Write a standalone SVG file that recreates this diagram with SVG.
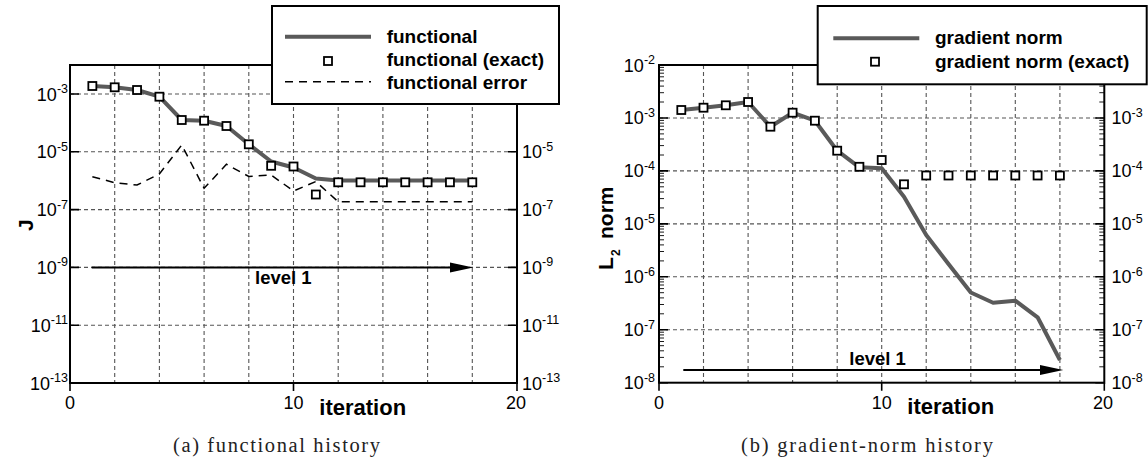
<svg xmlns="http://www.w3.org/2000/svg" xmlns:xlink="http://www.w3.org/1999/xlink" width="1148" height="466" viewBox="0 0 1148 466">
<style>
.frame{fill:none;stroke:#000;stroke-width:2}
.grid{fill:none;stroke:#555;stroke-width:1.1;stroke-dasharray:4 3}
.tick{fill:none;stroke:#000;stroke-width:1.6}
.minor{fill:none;stroke:#000;stroke-width:0.9}
.curve{fill:none;stroke:#5a5a5a;stroke-width:4;stroke-linejoin:round}
.err{fill:none;stroke:#000;stroke-width:1.5;stroke-dasharray:8 6}
.sq{fill:#fff;stroke:#000;stroke-width:1.8}
.arrow{fill:none;stroke:#000;stroke-width:2}
.head{fill:#000}
.lbl{font-family:"Liberation Sans",Arial,sans-serif;font-size:18px;fill:#000}
.sup{font-size:12.5px}
.bold{font-family:"Liberation Sans",Arial,sans-serif;font-weight:bold;fill:#000}
.leg{fill:#fff;stroke:#000;stroke-width:2}
.cap{font-family:"Liberation Serif","Times New Roman",serif;font-size:20.5px;fill:#222}
</style>
<defs>
<path id="minorL" d="M0 366.8h5M0 357.4h5M0 350.8h5M0 345.7h5M0 341.5h5M0 338h5M0 334.9h5M0 332.2h5M0 313.8h5M0 304.5h5M0 297.9h5M0 292.7h5M0 288.6h5M0 285h5M0 281.9h5M0 279.2h5M0 260.9h5M0 251.5h5M0 244.9h5M0 239.8h5M0 235.6h5M0 232.1h5M0 229h5M0 226.3h5M0 207.9h5M0 198.6h5M0 192h5M0 186.8h5M0 182.7h5M0 179.1h5M0 176h5M0 173.3h5M0 155h5M0 145.6h5M0 139h5M0 133.9h5M0 129.7h5M0 126.2h5M0 123.1h5M0 120.4h5M0 102h5M0 92.7h5M0 86.1h5M0 80.9h5M0 76.8h5M0 73.2h5M0 70.1h5M0 67.4h5"/>
<path id="majorR" d="M0 65h9M0 117.95h9M0 170.9h9M0 223.85h9M0 276.8h9M0 329.75h9M0 382.7h9"/>
<path id="majorLft" d="M0 94h9M0 151.8h9M0 209.6h9M0 267.4h9M0 325.2h9M0 383h9"/>
</defs>

<g id="plot-a">
  <g id="grid-a">
    <path class="grid" d="M114.7 65V383M159.4 65V383M204.1 65V383M248.8 65V383M293.5 65V383M338.2 65V383M382.9 65V383M427.6 65V383M472.3 65V383"/>
    <path class="grid" d="M70 94H517M70 151.8H517M70 209.6H517M70 267.4H517M70 325.2H517"/>
  </g>
  <g id="axes-a">
    <rect class="frame" x="70" y="65" width="447" height="318"/>
    <use href="#majorLft" class="tick" x="70"/>
    <use href="#majorLft" class="tick" transform="translate(517,0) scale(-1,1)"/>
    <path class="tick" d="M70 383v8M293.5 383v8M517 383v8"/>
    <text class="lbl" x="68" y="100.5" text-anchor="end">10<tspan class="sup" dy="-7.5">-3</tspan></text>
    <text class="lbl" x="68" y="158.3" text-anchor="end">10<tspan class="sup" dy="-7.5">-5</tspan></text>
    <text class="lbl" x="68" y="216.1" text-anchor="end">10<tspan class="sup" dy="-7.5">-7</tspan></text>
    <text class="lbl" x="68" y="273.9" text-anchor="end">10<tspan class="sup" dy="-7.5">-9</tspan></text>
    <text class="lbl" x="68" y="331.7" text-anchor="end">10<tspan class="sup" dy="-7.5">-11</tspan></text>
    <text class="lbl" x="68" y="389.5" text-anchor="end">10<tspan class="sup" dy="-7.5">-13</tspan></text>
    <text class="lbl" x="522" y="158.3">10<tspan class="sup" dy="-7.5">-5</tspan></text>
    <text class="lbl" x="522" y="216.1">10<tspan class="sup" dy="-7.5">-7</tspan></text>
    <text class="lbl" x="522" y="273.9">10<tspan class="sup" dy="-7.5">-9</tspan></text>
    <text class="lbl" x="522" y="331.7">10<tspan class="sup" dy="-7.5">-11</tspan></text>
    <text class="lbl" x="522" y="389.5">10<tspan class="sup" dy="-7.5">-13</tspan></text>
    <text class="lbl" x="70" y="408.5" text-anchor="middle">0</text>
    <text class="lbl" x="293.5" y="408.5" text-anchor="middle">10</text>
    <text class="lbl" x="516" y="408.5" text-anchor="middle">20</text>
    <text class="bold" x="319.3" y="415" font-size="22">iteration</text>
    <text class="bold" font-size="21" transform="translate(33,231) rotate(-90)">J</text>
  </g>
  <g id="series-a">
    <polyline class="err" points="92.35,176.7 114.7,182.7 137.05,185 159.4,174 181.75,145 204.1,188.3 226.45,164.3 248.8,176.5 271.15,175 293.5,191 315.85,181.5 338.2,201.7 472.3,201.7"/>
    <polyline class="curve" points="92.35,86 114.7,87.3 137.05,90 159.4,96.7 181.75,120 204.1,120.7 226.45,126 248.8,144.3 271.15,161.5 293.5,167.5 315.85,178.5 338.2,180.5 472.3,180.5"/>
    <rect class="sq" x="88.35" y="82" width="8" height="8"/>
    <rect class="sq" x="110.7" y="83.3" width="8" height="8"/>
    <rect class="sq" x="133.05" y="86" width="8" height="8"/>
    <rect class="sq" x="155.4" y="92.7" width="8" height="8"/>
    <rect class="sq" x="177.75" y="116" width="8" height="8"/>
    <rect class="sq" x="200.1" y="116.7" width="8" height="8"/>
    <rect class="sq" x="222.45" y="122" width="8" height="8"/>
    <rect class="sq" x="244.8" y="140.3" width="8" height="8"/>
    <rect class="sq" x="267.15" y="161.8" width="8" height="8"/>
    <rect class="sq" x="289.5" y="162.5" width="8" height="8"/>
    <rect class="sq" x="311.85" y="190.5" width="8" height="8"/>
    <rect class="sq" x="334.2" y="178.3" width="8" height="8"/>
    <rect class="sq" x="356.55" y="178.3" width="8" height="8"/>
    <rect class="sq" x="378.9" y="178.3" width="8" height="8"/>
    <rect class="sq" x="401.25" y="178.3" width="8" height="8"/>
    <rect class="sq" x="423.6" y="178.3" width="8" height="8"/>
    <rect class="sq" x="445.95" y="178.3" width="8" height="8"/>
    <rect class="sq" x="468.3" y="178.3" width="8" height="8"/>
  </g>
  <g id="level-a">
    <path class="arrow" d="M91.7 267.4H452"/>
    <polygon class="head" points="450,262.4 473.3,267.4 450,272.4"/>
    <text class="bold" x="255" y="283.5" font-size="18.5">level 1</text>
  </g>
  <g id="legend-a">
    <rect class="leg" x="272" y="6" width="287" height="98"/>
    <path class="curve" d="M285 36.7H371"/>
    <rect class="sq" x="324" y="57" width="8" height="8"/>
    <path class="err" d="M285 81.7H371"/>
    <text class="bold" x="386.7" y="43.3" font-size="19">functional</text>
    <text class="bold" x="386.7" y="66" font-size="19">functional (exact)</text>
    <text class="bold" x="386.7" y="88.5" font-size="19">functional error</text>
  </g>
  <text class="cap" x="173" y="451.7" textLength="207">(a) functional history</text>
</g>

<g id="plot-b">
  <g id="grid-b">
    <path class="grid" d="M703.5 65V382.7M748.1 65V382.7M792.6 65V382.7M837.2 65V382.7M881.7 65V382.7M926.2 65V382.7M970.8 65V382.7M1015.3 65V382.7M1059.9 65V382.7"/>
    <path class="grid" d="M659 117.95H1104.3M659 170.9H1104.3M659 223.85H1104.3M659 276.8H1104.3M659 329.75H1104.3"/>
  </g>
  <g id="axes-b">
    <rect class="frame" x="659" y="65" width="445.3" height="317.7"/>
    <use href="#minorL" class="minor" x="659"/>
    <use href="#minorL" class="minor" transform="translate(1104.3,0) scale(-1,1)"/>
    <use href="#majorR" class="tick" x="659"/>
    <use href="#majorR" class="tick" transform="translate(1104.3,0) scale(-1,1)"/>
    <path class="tick" d="M659 382.7v8M881.7 382.7v8M1104.3 382.7v8"/>
    <text class="lbl" x="655" y="71.5" text-anchor="end">10<tspan class="sup" dy="-7.5">-2</tspan></text>
    <text class="lbl" x="655" y="124.45" text-anchor="end">10<tspan class="sup" dy="-7.5">-3</tspan></text>
    <text class="lbl" x="655" y="177.4" text-anchor="end">10<tspan class="sup" dy="-7.5">-4</tspan></text>
    <text class="lbl" x="655" y="230.35" text-anchor="end">10<tspan class="sup" dy="-7.5">-5</tspan></text>
    <text class="lbl" x="655" y="283.3" text-anchor="end">10<tspan class="sup" dy="-7.5">-6</tspan></text>
    <text class="lbl" x="655" y="336.25" text-anchor="end">10<tspan class="sup" dy="-7.5">-7</tspan></text>
    <text class="lbl" x="655" y="389.2" text-anchor="end">10<tspan class="sup" dy="-7.5">-8</tspan></text>
    <text class="lbl" x="1111.5" y="124.45">10<tspan class="sup" dy="-7.5">-3</tspan></text>
    <text class="lbl" x="1111.5" y="177.4">10<tspan class="sup" dy="-7.5">-4</tspan></text>
    <text class="lbl" x="1111.5" y="230.35">10<tspan class="sup" dy="-7.5">-5</tspan></text>
    <text class="lbl" x="1111.5" y="283.3">10<tspan class="sup" dy="-7.5">-6</tspan></text>
    <text class="lbl" x="1111.5" y="336.25">10<tspan class="sup" dy="-7.5">-7</tspan></text>
    <text class="lbl" x="1111.5" y="389.2">10<tspan class="sup" dy="-7.5">-8</tspan></text>
    <text class="lbl" x="659" y="408.5" text-anchor="middle">0</text>
    <text class="lbl" x="881.7" y="408.5" text-anchor="middle">10</text>
    <text class="lbl" x="1103" y="408.5" text-anchor="middle">20</text>
    <text class="bold" x="907.3" y="414.3" font-size="22">iteration</text>
    <text class="bold" font-size="21" transform="translate(613,270) rotate(-90)">L<tspan font-size="12" x="14" dy="7">2</tspan><tspan x="31" dy="-7">norm</tspan></text>
  </g>
  <g id="series-b">
    <polyline class="curve" points="681.3,110 703.5,107.7 725.8,105.3 748.1,102 770.4,126.7 792.6,112.7 814.9,120.7 837.2,150.7 859.4,167.3 881.7,168.3 904,196.7 926.2,235 948.5,264 970.8,292.5 993.1,302.7 1015.3,300.7 1037.6,317.3 1059.9,360"/>
    <rect class="sq" x="677.3" y="106" width="8" height="8"/>
    <rect class="sq" x="699.5" y="103.7" width="8" height="8"/>
    <rect class="sq" x="721.8" y="101.3" width="8" height="8"/>
    <rect class="sq" x="744.1" y="98" width="8" height="8"/>
    <rect class="sq" x="766.4" y="122.7" width="8" height="8"/>
    <rect class="sq" x="788.6" y="108.7" width="8" height="8"/>
    <rect class="sq" x="810.9" y="116.7" width="8" height="8"/>
    <rect class="sq" x="833.2" y="146.7" width="8" height="8"/>
    <rect class="sq" x="855.4" y="162.8" width="8" height="8"/>
    <rect class="sq" x="877.7" y="156" width="8" height="8"/>
    <rect class="sq" x="900" y="180.3" width="8" height="8"/>
    <rect class="sq" x="922.2" y="171.5" width="8" height="8"/>
    <rect class="sq" x="944.5" y="171.5" width="8" height="8"/>
    <rect class="sq" x="966.8" y="171.5" width="8" height="8"/>
    <rect class="sq" x="989.1" y="171.5" width="8" height="8"/>
    <rect class="sq" x="1011.3" y="171.5" width="8" height="8"/>
    <rect class="sq" x="1033.6" y="171.5" width="8" height="8"/>
    <rect class="sq" x="1055.9" y="171.5" width="8" height="8"/>
  </g>
  <g id="level-b">
    <path class="arrow" d="M683.3 370H1042"/>
    <polygon class="head" points="1040,365 1063.3,370 1040,375"/>
    <text class="bold" x="849.3" y="365" font-size="18.5">level 1</text>
  </g>
  <g id="legend-b">
    <rect class="leg" x="817.7" y="6" width="329" height="78.3"/>
    <path class="curve" d="M833.3 38.3H919.3"/>
    <rect class="sq" x="871" y="57.7" width="8" height="8"/>
    <text class="bold" x="935" y="44" font-size="19">gradient norm</text>
    <text class="bold" x="935" y="67.5" font-size="19">gradient norm (exact)</text>
  </g>
  <text class="cap" x="741" y="451.7" textLength="252">(b) gradient-norm history</text>
</g>
</svg>
